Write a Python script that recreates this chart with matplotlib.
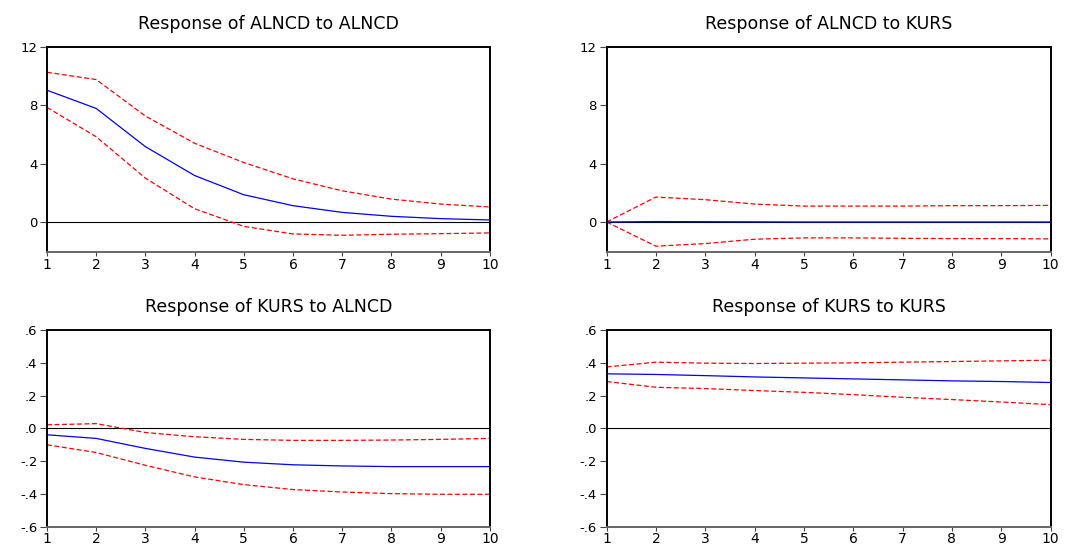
import matplotlib.pyplot as plt

steps = [1, 2, 3, 4, 5, 6, 7, 8, 9, 10]

# ALNCD response to ALNCD shock
alncd_alncd = [9.04, 7.79, 5.17, 3.19, 1.87, 1.12, 0.66, 0.39, 0.23, 0.14]
alncd_alncd_hi = [10.27, 9.77, 7.27, 5.40, 4.08, 2.96, 2.14, 1.57, 1.23, 1.03]
alncd_alncd_lo = [7.86, 5.85, 3.01, 0.91, -0.30, -0.82, -0.91, -0.84, -0.80, -0.75]

# ALNCD response to KURS shock
alncd_kurs = [0.0, 0.03, 0.02, 0.01, 0.0, 0.0, 0.0, 0.0, 0.0, 0.0]
alncd_kurs_hi = [0.0, 1.71, 1.53, 1.23, 1.09, 1.09, 1.09, 1.12, 1.12, 1.14]
alncd_kurs_lo = [0.0, -1.66, -1.48, -1.18, -1.09, -1.09, -1.12, -1.14, -1.14, -1.16]

# KURS response to ALNCD shock
kurs_alncd = [-0.039, -0.061, -0.122, -0.175, -0.206, -0.222, -0.229, -0.233, -0.233, -0.233]
kurs_alncd_hi = [0.022, 0.029, -0.025, -0.051, -0.067, -0.073, -0.073, -0.071, -0.067, -0.061]
kurs_alncd_lo = [-0.100, -0.147, -0.225, -0.296, -0.343, -0.373, -0.388, -0.398, -0.402, -0.402]

# KURS response to KURS shock
kurs_kurs = [0.333, 0.329, 0.322, 0.314, 0.308, 0.302, 0.296, 0.290, 0.286, 0.280]
kurs_kurs_hi = [0.375, 0.404, 0.398, 0.396, 0.398, 0.400, 0.404, 0.408, 0.412, 0.416]
kurs_kurs_lo = [0.286, 0.251, 0.243, 0.231, 0.220, 0.206, 0.190, 0.176, 0.161, 0.145]

top_ticks = [0, 4, 8, 12]
top_labels = ['0', '4', '8', '12']
bot_ticks = [-0.6, -0.4, -0.2, 0.0, 0.2, 0.4, 0.6]
bot_labels = ['-.6', '-.4', '-.2', '.0', '.2', '.4', '.6']

plt.rcParams['font.family'] = ['DejaVu Sans']

fig = plt.figure(figsize=(10.8, 5.51), dpi=100)

panels = [
    ('Response of ALNCD to ALNCD', alncd_alncd, alncd_alncd_hi, alncd_alncd_lo,
     [0.0435, 0.5426, 0.410, 0.372], (-2.06, 12), top_ticks, top_labels),
    ('Response of ALNCD to KURS', alncd_kurs, alncd_kurs_hi, alncd_kurs_lo,
     [0.5617, 0.5426, 0.411, 0.372], (-2.06, 12), top_ticks, top_labels),
    ('Response of KURS to ALNCD', kurs_alncd, kurs_alncd_hi, kurs_alncd_lo,
     [0.0435, 0.044, 0.410, 0.357], (-0.6, 0.6), bot_ticks, bot_labels),
    ('Response of KURS to KURS', kurs_kurs, kurs_kurs_hi, kurs_kurs_lo,
     [0.5617, 0.044, 0.411, 0.357], (-0.6, 0.6), bot_ticks, bot_labels),
]

for title, mid, hi, lo, pos, ylim, yt, yl in panels:
    ax = fig.add_axes(pos)
    ax.axhline(0, color='black', lw=0.8, zorder=1)
    ax.plot(steps, hi, color='red', lw=0.9, dashes=(4, 2), zorder=2)
    ax.plot(steps, lo, color='red', lw=0.9, dashes=(4, 2), zorder=2)
    ax.plot(steps, mid, color='blue', lw=0.9, zorder=3)

    ax.set_xlim(1, 10)
    ax.set_ylim(*ylim)
    ax.set_xticks(steps)
    ax.set_yticks(yt)
    ax.set_yticklabels(yl)

    for side in ['left', 'top', 'right']:
        ax.spines[side].set_color('black')
        ax.spines[side].set_linewidth(1.4)
    ax.spines['bottom'].set_color('#666666')
    ax.spines['bottom'].set_linewidth(1.4)

    ax.tick_params(axis='y', direction='out', length=5, width=0.8,
                   color='#444444', labelsize=9.5, pad=2)
    ax.tick_params(axis='x', direction='out', length=3, width=0.8,
                   color='#444444', labelsize=10, pad=1)
    ax.set_title(title, fontsize=12.5, pad=13)

fig.savefig('out.png', dpi=100)
